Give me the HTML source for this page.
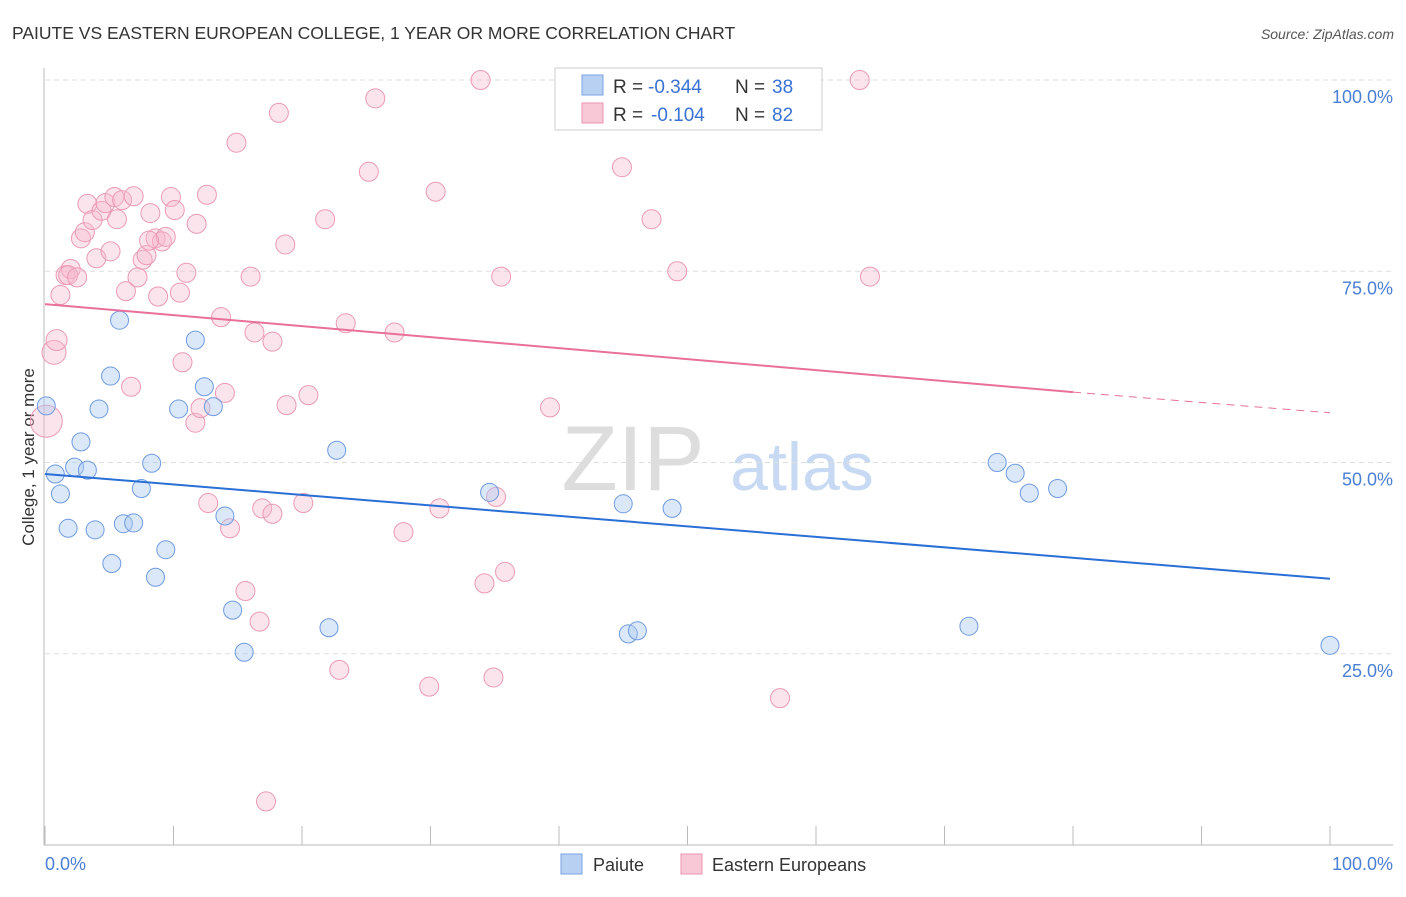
<!DOCTYPE html>
<html><head><meta charset="utf-8"><style>
body{margin:0;background:#fff;font-family:"Liberation Sans",sans-serif}
svg text{font-family:"Liberation Sans",sans-serif}
</style></head><body>
<svg width="1406" height="892">
<text x="12" y="39" font-size="17.5" fill="#333">PAIUTE VS EASTERN EUROPEAN COLLEGE, 1 YEAR OR MORE CORRELATION CHART</text>
<text x="1394" y="39" font-size="14" fill="#555" font-style="italic" text-anchor="end">Source: ZipAtlas.com</text>
<g><text x="633" y="490" font-size="92" font-family="Liberation Serif" fill="#ddd" text-anchor="middle">ZIP</text><text x="802" y="490" font-size="68" fill="#c8daf3" text-anchor="middle">atlas</text></g>
<g id="grid"></g>
<line x1="44" y1="68" x2="44" y2="845" stroke="#bbb"/>
<line x1="44" y1="845" x2="1393" y2="845" stroke="#bbb"/>
<g id="ticks"></g>
<text transform="translate(34,457) rotate(-90)" font-size="17" fill="#333" text-anchor="middle">College, 1 year or more</text>
<text x="45" y="870" font-size="18" fill="#4a7fd4">0.0%</text>
<text x="1393" y="870" font-size="18" fill="#4a7fd4" text-anchor="end">100.0%</text>
<g id="pts"></g>
<g id="lines"></g>
<g>
<rect x="555" y="68" width="267" height="62" fill="#fff" stroke="#ccc"/>
<rect x="582" y="75" width="21" height="20" fill="#b8d1f3" stroke="#7aa3e3"/>
<rect x="582" y="103" width="21" height="20" fill="#f9c8d7" stroke="#eb93b0"/>
<text x="613" y="93" font-size="19" fill="#333">R =</text>
<text x="648" y="93" font-size="19" fill="#3a72d4">-0.344</text>
<text x="735" y="93" font-size="19" fill="#333">N =</text>
<text x="772" y="93" font-size="19" fill="#3a72d4">38</text>
<text x="613" y="121" font-size="19" fill="#333">R =</text>
<text x="651" y="121" font-size="19" fill="#3a72d4">-0.104</text>
<text x="735" y="121" font-size="19" fill="#333">N =</text>
<text x="772" y="121" font-size="19" fill="#3a72d4">82</text>
</g>
<g>
<rect x="561" y="854" width="21" height="20" fill="#b8d1f3" stroke="#7aa3e3"/>
<text x="593" y="871" font-size="18" fill="#333">Paiute</text>
<rect x="681" y="854" width="21" height="20" fill="#f9c8d7" stroke="#eb93b0"/>
<text x="712" y="871" font-size="18" fill="#333">Eastern Europeans</text>
</g>
</svg>
<script>
const yTicks=[25,50,75,100];
const yTickLabels=["25.0%","50.0%","75.0%","100.0%"];
const xTicks=[0,10,20,30,40,50,60,70,80,90,100];
const paiuteX=[0.1,0.8,1.2,1.8,2.3,2.8,3.3,3.9,4.2,5.1,5.2,5.8,6.1,6.9,7.5,8.3,8.6,9.4,10.4,11.7,12.4,13.1,14.0,14.6,15.5,22.1,22.7,34.6,45.0,45.4,46.1,48.8,71.9,74.1,75.5,76.6,78.8,100.0];
const paiuteY=[57.4,48.5,45.9,41.4,49.4,52.7,49.0,41.2,57.0,61.3,36.8,68.6,42.0,42.1,46.6,49.9,35.0,38.6,57.0,66.0,59.9,57.3,43.0,30.7,25.2,28.4,51.6,46.1,44.6,27.6,28.0,44.0,28.6,50.0,48.6,46.0,46.6,26.1];
const eeX=[0.1,0.7,0.9,1.2,1.6,2.0,1.8,2.5,2.8,3.1,3.3,3.7,4.0,4.4,4.7,5.1,5.4,5.6,6.0,6.3,6.7,6.9,7.2,7.6,7.9,8.2,8.6,8.8,9.1,9.4,9.8,10.1,10.5,10.7,11.0,11.7,11.8,12.1,12.6,12.7,13.7,14.0,14.4,14.9,15.6,16.0,16.3,16.7,16.9,17.2,17.7,17.7,18.2,18.7,18.8,20.1,20.5,21.8,22.9,23.4,25.2,25.7,27.2,27.9,29.9,30.4,30.7,33.9,34.2,34.9,35.1,35.5,35.8,39.3,44.9,47.2,49.2,57.2,63.4,64.2,8.1];
const eeY=[55.4,64.4,66.0,71.9,74.5,75.3,74.5,74.2,79.3,80.1,83.8,81.7,76.7,82.9,83.9,77.6,84.7,81.8,84.3,72.4,59.9,84.8,74.2,76.5,77.1,82.6,79.3,71.7,78.9,79.5,84.7,83.0,72.2,63.1,74.8,55.2,81.2,57.1,85.0,44.7,69.0,59.1,41.4,91.8,33.2,74.3,67.0,29.2,44.0,5.7,43.3,65.8,95.7,78.5,57.5,44.7,58.8,81.8,22.9,68.2,88.0,97.6,67.0,40.9,20.7,85.4,44.0,100.0,34.2,21.9,45.5,74.3,35.7,57.2,88.6,81.8,75.0,19.2,100.0,74.3,79.0];
const eeR=eeX.map(()=>9.5);eeR[0]=16;eeR[1]=12;eeR[2]=10.5;
const X=v=>45+v*12.85, Y=v=>845-v*7.65;
const NS='http://www.w3.org/2000/svg';
function mk(p,t,a){const e=document.createElementNS(NS,t);for(const k in a)e.setAttribute(k,a[k]);p.appendChild(e);return e;}
const grid=document.getElementById('grid');
yTicks.forEach((v,i)=>{
const l=mk(grid,'line',{x1:45,x2:1393,y1:Y(v),y2:Y(v),stroke:'#ddd','stroke-dasharray':'5,4'});


const t=mk(grid,'text',{x:1393,y:Y(v)+23,'font-size':18,fill:'#4a7fd4','text-anchor':'end'});t.textContent=yTickLabels[i];


});
const ticks=document.getElementById('ticks');
xTicks.forEach(v=>{const l=mk(ticks,'line',{x1:X(v),x2:X(v),y1:826,y2:845,stroke:'#bbb'});

});
const pts=document.getElementById('pts');
eeX.forEach((x,i)=>{const c=mk(pts,'circle',{cx:X(x),cy:Y(eeY[i]),r:eeR[i],fill:'rgba(247,185,205,0.38)',stroke:'#eb9ab5','stroke-width':1});

});
paiuteX.forEach((x,i)=>{const c=mk(pts,'circle',{cx:X(x),cy:Y(paiuteY[i]),r:9,fill:'rgba(170,200,240,0.42)',stroke:'#6f9be0','stroke-width':1});

});
const lines=document.getElementById('lines');
const bl=mk(lines,'line',{x1:X(0),y1:Y(48.5),x2:X(100),y2:Y(34.8),stroke:'#2a6fd6','stroke-width':2});


const pl=mk(lines,'line',{x1:X(0),y1:Y(70.7),x2:X(80),y2:Y(59.2),stroke:'#e8709a','stroke-width':2});


const pd=mk(lines,'line',{x1:X(80),y1:Y(59.2),x2:X(100),y2:Y(56.5),stroke:'#e8709a','stroke-width':1,'stroke-dasharray':'8,6'});


</script>
</body></html>
